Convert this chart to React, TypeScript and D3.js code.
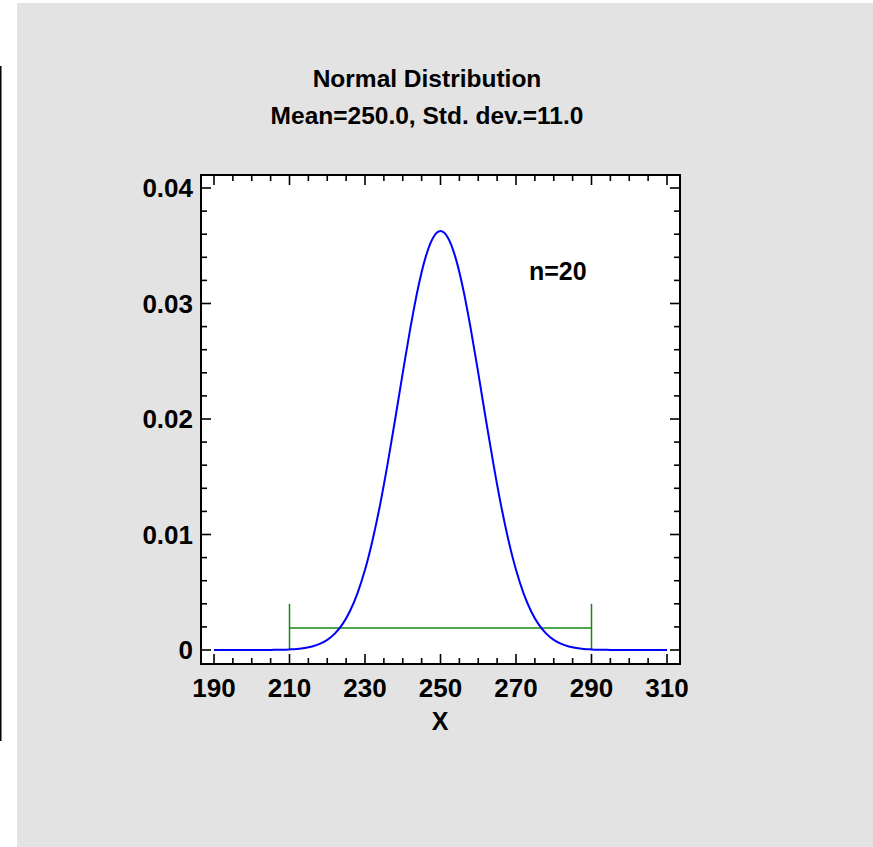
import React, { useRef, useEffect } from 'react';
import * as d3 from 'd3';

// density values, x = 190..310 every 2 units
const xValues: number[] = d3.range(190, 311, 2);
const density: number[] = [
  0.00000, 0.00000, 0.00000, 0.00000, 0.00000, 0.000001, 0.000003, 0.000006, 0.000012, 0.000025,
  0.00005, 0.00009, 0.00017, 0.00031, 0.00053, 0.00088, 0.00142, 0.00222, 0.00336, 0.00491,
  0.00694, 0.00951, 0.01259, 0.01614, 0.02000, 0.02399, 0.02784, 0.03126, 0.03395, 0.03567,
  0.03627,
  0.03567, 0.03395, 0.03126, 0.02784, 0.02399, 0.02000, 0.01614, 0.01259, 0.00951, 0.00694,
  0.00491, 0.00336, 0.00222, 0.00142, 0.00088, 0.00053, 0.00031, 0.00017, 0.00009, 0.00005,
  0.000025, 0.000012, 0.000006, 0.000003, 0.000001, 0.00000, 0.00000, 0.00000, 0.00000, 0.00000,
];

// green interval bar
const intervalEnds: number[] = [210, 290];
const intervalLevel = 0.0019;
const capHeight = 0.004;

const xMajor: number[] = [190, 210, 230, 250, 270, 290, 310];
const yMajor: number[] = [0, 0.01, 0.02, 0.03, 0.04];
const yLabels: string[] = ['0', '0.01', '0.02', '0.03', '0.04'];

const titleLines: string[] = ['Normal Distribution', 'Mean=250.0, Std. dev.=11.0'];
const annotation = 'n=20';

function App() {
  const svgRef = useRef<SVGSVGElement>(null);

  useEffect(() => {
    const svg = d3.select(svgRef.current);
    svg.selectAll('*').remove();

    const width = 873;
    const height = 847;
    const frame = { left: 201, top: 175, right: 680, bottom: 664 };
    const font = '"Liberation Sans", Arial, sans-serif';

    svg.attr('width', width).attr('height', height);

    svg.append('rect')
      .attr('x', 17).attr('y', 3)
      .attr('width', width - 17).attr('height', height - 3)
      .attr('fill', '#e3e3e3');

    svg.append('line')
      .attr('x1', 0.5).attr('x2', 0.5)
      .attr('y1', 66).attr('y2', 741)
      .attr('stroke', '#000').attr('stroke-width', 2);

    const x = d3.scaleLinear().domain([190, 310]).range([214, 667]);
    const y = d3.scaleLinear().domain([0, 0.04]).range([650, 188]);

    svg.append('rect')
      .attr('x', frame.left).attr('y', frame.top)
      .attr('width', frame.right - frame.left)
      .attr('height', frame.bottom - frame.top)
      .attr('fill', '#fff');

    // ticks (drawn inward on all four sides)
    const ticks = svg.append('g').attr('stroke', '#000').attr('stroke-width', 1.6);
    const xMinor = d3.range(190, 311, 5);
    const yMinor = d3.range(0, 0.0401, 0.002);

    xMinor.forEach(v => {
      const len = xMajor.includes(v) ? 10 : 6;
      ticks.append('line')
        .attr('x1', x(v)).attr('x2', x(v))
        .attr('y1', frame.bottom).attr('y2', frame.bottom - len);
      ticks.append('line')
        .attr('x1', x(v)).attr('x2', x(v))
        .attr('y1', frame.top).attr('y2', frame.top + len);
    });

    yMinor.forEach((v, i) => {
      const len = i % 5 === 0 ? 10 : 6;
      ticks.append('line')
        .attr('x1', frame.left).attr('x2', frame.left + len)
        .attr('y1', y(v)).attr('y2', y(v));
      ticks.append('line')
        .attr('x1', frame.right).attr('x2', frame.right - len)
        .attr('y1', y(v)).attr('y2', y(v));
    });

    // interval bar
    const green = '#128a12';
    svg.append('line')
      .attr('x1', x(intervalEnds[0])).attr('x2', x(intervalEnds[1]))
      .attr('y1', y(intervalLevel)).attr('y2', y(intervalLevel))
      .attr('stroke', green).attr('stroke-width', 1.5);
    intervalEnds.forEach(v => {
      svg.append('line')
        .attr('x1', x(v)).attr('x2', x(v))
        .attr('y1', y(0)).attr('y2', y(capHeight))
        .attr('stroke', green).attr('stroke-width', 1.5);
    });

    // density curve
    const line = d3.line<number>()
      .x((d, i) => x(xValues[i]))
      .y(d => y(d))
      .curve(d3.curveMonotoneX);

    svg.append('path')
      .datum(density)
      .attr('d', line)
      .attr('fill', 'none')
      .attr('stroke', '#0000ff')
      .attr('stroke-width', 2);

    svg.append('rect')
      .attr('x', frame.left).attr('y', frame.top)
      .attr('width', frame.right - frame.left)
      .attr('height', frame.bottom - frame.top)
      .attr('fill', 'none')
      .attr('stroke', '#000')
      .attr('stroke-width', 2);

    // tick labels
    svg.append('g')
      .selectAll('text')
      .data(yMajor)
      .enter()
      .append('text')
      .attr('x', 193)
      .attr('y', d => y(d) + 9)
      .attr('text-anchor', 'end')
      .style('font-family', font)
      .style('font-weight', 'bold')
      .style('font-size', '26px')
      .text((d, i) => yLabels[i]);

    svg.append('g')
      .selectAll('text')
      .data(xMajor)
      .enter()
      .append('text')
      .attr('x', d => x(d))
      .attr('y', 697)
      .attr('text-anchor', 'middle')
      .style('font-family', font)
      .style('font-weight', 'bold')
      .style('font-size', '26px')
      .text(d => d);

    svg.append('text')
      .attr('x', 440)
      .attr('y', 730)
      .attr('text-anchor', 'middle')
      .style('font-family', font)
      .style('font-weight', 'bold')
      .style('font-size', '25px')
      .text('X');

    svg.append('text')
      .attr('x', 529)
      .attr('y', 280)
      .style('font-family', font)
      .style('font-weight', 'bold')
      .style('font-size', '25px')
      .text(annotation);

    titleLines.forEach((t, i) => {
      svg.append('text')
        .attr('x', 427)
        .attr('y', 87 + i * 36.5)
        .attr('text-anchor', 'middle')
        .style('font-family', font)
        .style('font-weight', 'bold')
        .style('font-size', '24.5px')
        .text(t);
    });
  }, []);

  return (
    <div style={{ position: 'absolute', left: 0, top: 0 }}>
      <svg ref={svgRef}></svg>
    </div>
  );
}

export default App;
